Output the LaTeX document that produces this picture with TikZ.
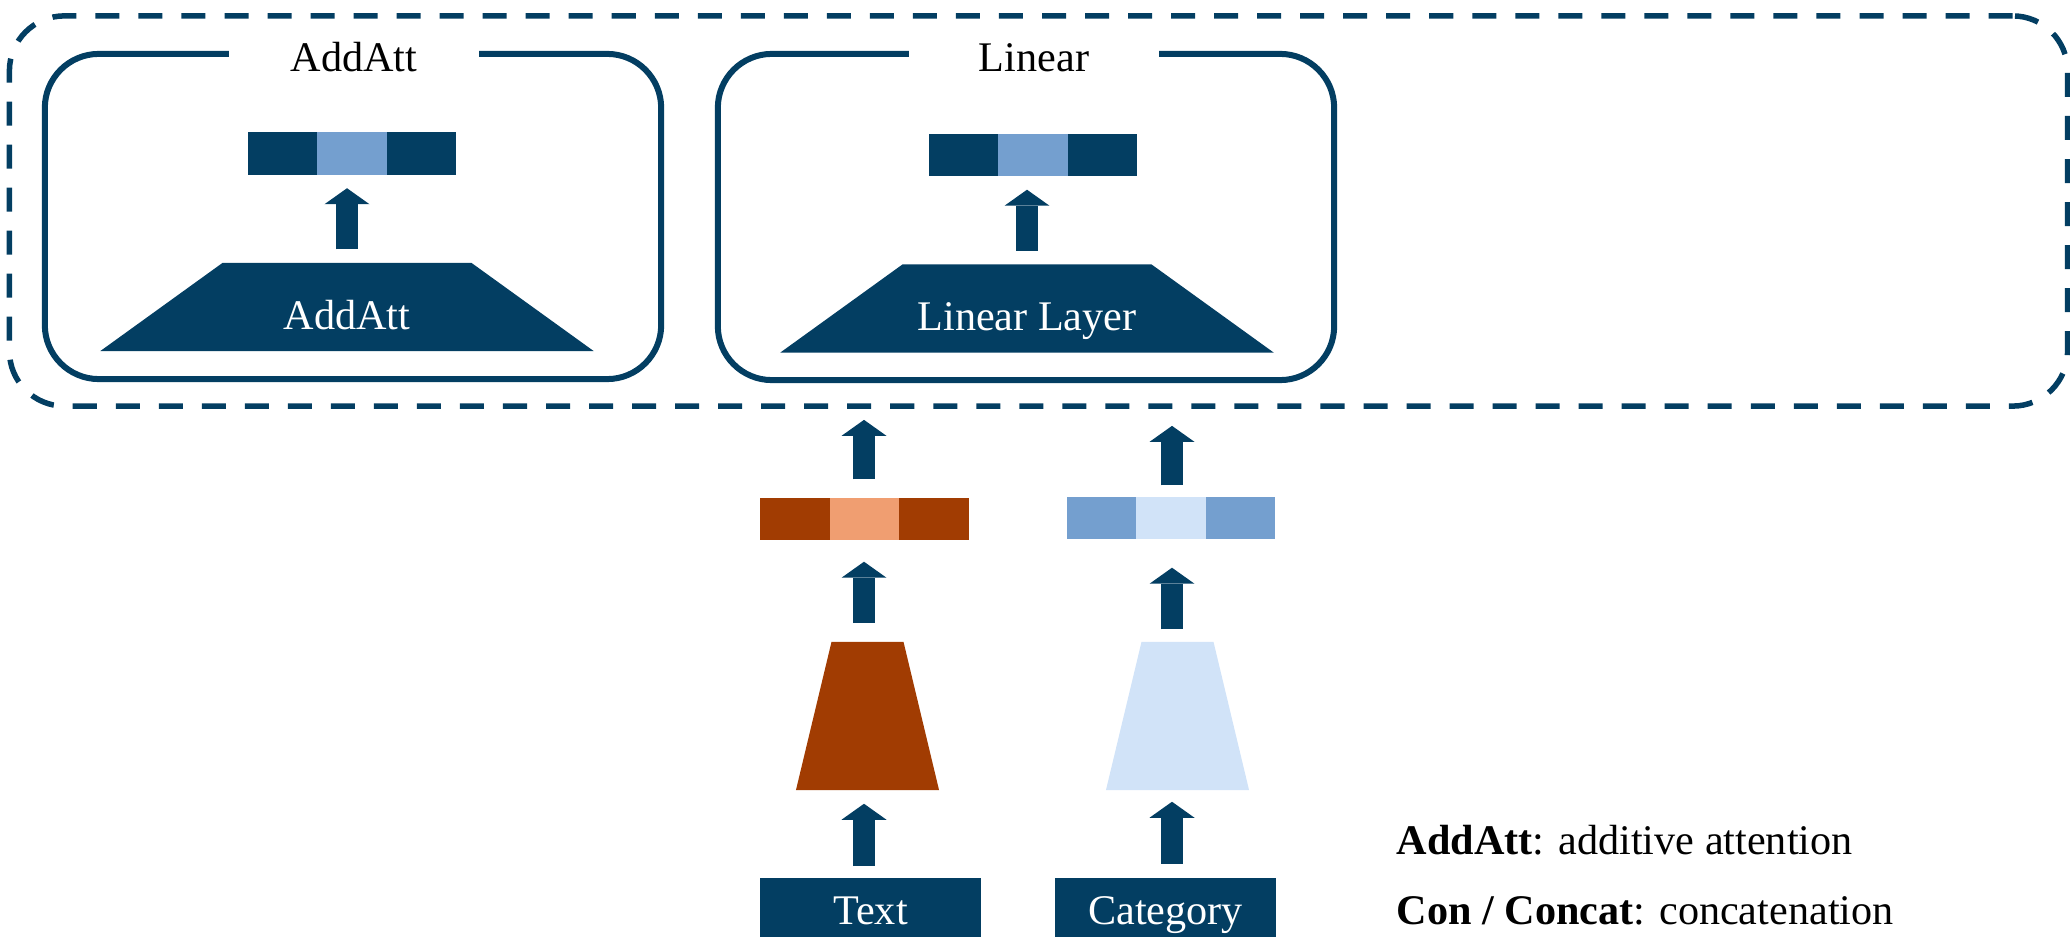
\documentclass[tikz,border=0pt]{standalone}
\usepackage{fontspec}
\setmainfont{Liberation Serif}
\usetikzlibrary{arrows.meta,calc}
\definecolor{navy}{HTML}{033E62}
\definecolor{midblue}{HTML}{749FCF}
\definecolor{paleblue}{HTML}{D1E3F8}
\definecolor{rust}{HTML}{A13C02}
\definecolor{salmon}{HTML}{F09E71}
\begin{document}
\begin{tikzpicture}[x=0.01cm, y=-0.01cm, font=\fontsize{12}{14}\selectfont,
  panel/.style={draw=navy, line width=0.06cm, rounded corners=0.54cm, inner sep=0},
  dashedgroup/.style={draw=navy, line width=0.055cm, rounded corners=0.55cm,
    dash pattern=on 0.24cm off 0.19cm, inner sep=0},
  paneltitle/.style={fill=white, anchor=base, minimum width=2.5cm, inner xsep=0, inner ysep=0.04cm},
  vecbar/.style 2 args={minimum width=2.08cm, minimum height=0.42cm, inner sep=0, fill=#1,
    path picture={\fill[#2]
      ($(path picture bounding box.south west)!1/3!(path picture bounding box.south east)$) rectangle
      ($(path picture bounding box.north west)!2/3!(path picture bounding box.north east)$);}},
  % a filled trapezoid drawn inside the node's bounding rectangle;
  % #1 = fill colour, #2 = inset of the top side on each end
  taper/.style 2 args={inner sep=0,
    path picture={\fill[#1]
      (path picture bounding box.south west) -- (path picture bounding box.south east) --
      ([xshift=-#2]path picture bounding box.north east) --
      ([xshift=#2]path picture bounding box.north west) -- cycle;}},
  layerblock/.style={taper={navy}{1.22cm}, text=white, minimum width=4.93cm, minimum height=0.88cm,
    text height=0.5cm, text depth=0.06cm},
  encoder/.style={taper={#1}{0.355cm}, minimum width=1.43cm, minimum height=1.48cm},
  inputbox/.style={fill=navy, text=white, inner sep=0, minimum width=2.21cm, minimum height=0.62cm,
    text height=0.36cm, text depth=0.04cm, anchor=north},
  blockarrow/.style={draw=navy, line width=0.22cm,
    -{Triangle[width=0.45cm,length=0.16cm,line width=0pt]}},
  legend/.style={anchor=base west, inner sep=0}
]
\useasboundingbox (0,0) rectangle (2070,937);

% fusion stage
\node[dashedgroup, minimum width=20.57cm, minimum height=3.90cm] (fusion) at (1038.5,211) {};

% additive attention panel
\node[panel, minimum width=6.16cm, minimum height=3.25cm] (boxA) at (353,216.5) {};
\node[paneltitle] (titleA) at (354,72) {AddAtt};
\node[vecbar={navy}{midblue}] (vecA) at (352,153.5) {};
\node[layerblock] (layA) at (347,307) {AddAtt};
\draw[blockarrow, shorten <=0.13cm, shorten >=0.13cm] (layA.north) -- (layA.north |- vecA.south);

% linear panel
\node[panel, minimum width=6.16cm, minimum height=3.26cm] (boxL) at (1026,217) {};
\node[paneltitle] (titleL) at (1034,72) {Linear};
\node[vecbar={navy}{midblue}] (vecL) at (1033,155) {};
\node[layerblock] (layL) at (1027,308.5) {Linear Layer};
\draw[blockarrow, shorten <=0.13cm, shorten >=0.13cm] (layL.north) -- (layL.north |- vecL.south);

% text branch
\coordinate (colT) at (864,0);
\node[inputbox] (txt) at (870.5,877) {Text};
\node[encoder=rust] (encT) at (867.5,716) {};
\node[vecbar={rust}{salmon}] (vecT) at (864.5,519) {};
\draw[blockarrow, shorten <=0.11cm, shorten >=0.13cm] (txt.north -| colT) -- (encT.south -| colT);
\draw[blockarrow, shorten <=0.18cm, shorten >=0.21cm] (encT.north -| colT) -- (vecT.south -| colT);
\draw[blockarrow, shorten <=0.18cm, shorten >=0.11cm] (vecT.north -| colT) -- (fusion.south -| colT);

% category branch
\coordinate (colC) at (1172,0);
\node[inputbox] (cat) at (1165.5,877) {Category};
\node[encoder=paleblue] (encC) at (1177.5,716) {};
\node[vecbar={midblue}{paleblue}] (vecC) at (1171,518) {};
\draw[blockarrow, shorten <=0.13cm, shorten >=0.11cm] (cat.north -| colC) -- (encC.south -| colC);
\draw[blockarrow, shorten <=0.12cm, shorten >=0.28cm] (encC.north -| colC) -- (vecC.south -| colC);
\draw[blockarrow, shorten <=0.11cm, shorten >=0.17cm] (vecC.north -| colC) -- (fusion.south -| colC);

% legend
\node[legend] (legA) at (1396,854) {\textbf{AddAtt}: additive attention};
\node[legend] (legC) at (1396,924) {\textbf{Con / Concat}: concatenation};
\end{tikzpicture}
\end{document}
